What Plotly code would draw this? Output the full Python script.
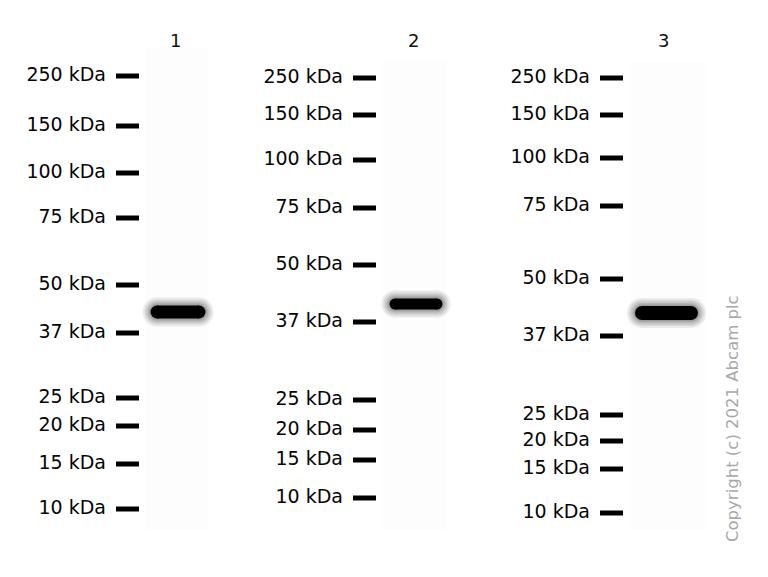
import plotly.graph_objects as go

marker_kda = [250, 150, 100, 75, 50, 37, 25, 20, 15, 10]
marker_labels = [f"{m} kDa" for m in marker_kda]

lane_names = ["1", "2", "3"]
lane1_marker_rows = [76, 126, 173, 218, 285, 333, 398, 426, 464, 509]
lane2_marker_rows = [78, 115, 160, 208, 265, 322, 400, 430, 460, 498]
lane3_marker_rows = [78, 115, 158, 206, 279, 336, 415, 441, 469, 513]
band_rows = [312, 304, 313]

copyright_text = "Copyright (c) 2021 Abcam plc"

# ---- geometry of the picture (pixel-like units) ----
W, H = 768, 577
tick_x = [(116, 139), (353, 376), (600, 623)]
lane_center = [177, 415, 665]
band_span = [(157, 199), (395, 437), (642, 691)]
band_width = [13, 11, 14]
lane_box = [(145, 208, 48, 530), (383, 447, 60, 530), (630, 705, 62, 530)]
label_font = dict(family="DejaVu Sans", size=19, color="#050505")

fig = go.Figure()

marker_rows = [lane1_marker_rows, lane2_marker_rows, lane3_marker_rows]

# faint lane backgrounds
for (x0, x1, y0, y1) in lane_box:
    fig.add_shape(type="rect", x0=x0, x1=x1, y0=y0, y1=y1,
                  fillcolor="#fdfdfd", line_width=0, layer="below")

for i, rows in enumerate(marker_rows):
    xs, ys = [], []
    for r in rows:
        xs += [tick_x[i][0], tick_x[i][1], None]
        ys += [r, r, None]
    # ladder bars
    fig.add_trace(go.Scatter(x=xs, y=ys, mode="lines",
                             line=dict(color="black", width=5),
                             hoverinfo="skip", showlegend=False))
    # ladder labels
    fig.add_trace(go.Scatter(x=[tick_x[i][0] - 10] * len(rows), y=rows,
                             mode="text", text=marker_labels,
                             textposition="middle left", textfont=label_font,
                             hoverinfo="skip", showlegend=False))

    # band: soft halo then dark core
    bx = list(band_span[i])
    by = [band_rows[i], band_rows[i]]
    for extra in [16, 12, 9, 6, 4, 2]:
        fig.add_trace(go.Scatter(x=bx, y=by, mode="lines+markers",
                                 line=dict(color="black", width=band_width[i] + extra),
                                 marker=dict(color="black", size=band_width[i] + extra),
                                 opacity=0.07, hoverinfo="skip", showlegend=False))
    fig.add_trace(go.Scatter(x=bx, y=by, mode="lines+markers",
                             line=dict(color="black", width=band_width[i]),
                             marker=dict(color="black", size=band_width[i]),
                             hoverinfo="skip", showlegend=False))

    # lane number
    fig.add_annotation(x=lane_center[i] - 2, y=40, text=lane_names[i],
                       showarrow=False, font=dict(family="DejaVu Sans", size=18, color="#111111"))

fig.add_annotation(x=732, y=419, text=copyright_text, textangle=-90, showarrow=False,
                   font=dict(family="DejaVu Sans", size=16.5, color="#a8a8a8"))

fig.update_layout(
    width=W, height=H, autosize=False,
    margin=dict(l=0, r=0, t=0, b=0),
    plot_bgcolor="white", paper_bgcolor="white",
    xaxis=dict(range=[0, W], visible=False, fixedrange=True),
    yaxis=dict(range=[H, 0], visible=False, fixedrange=True),
)

fig.write_html("out.html", config={"displayModeBar": False},
               post_script="document.body.style.margin='0';document.body.style.padding='0';")
